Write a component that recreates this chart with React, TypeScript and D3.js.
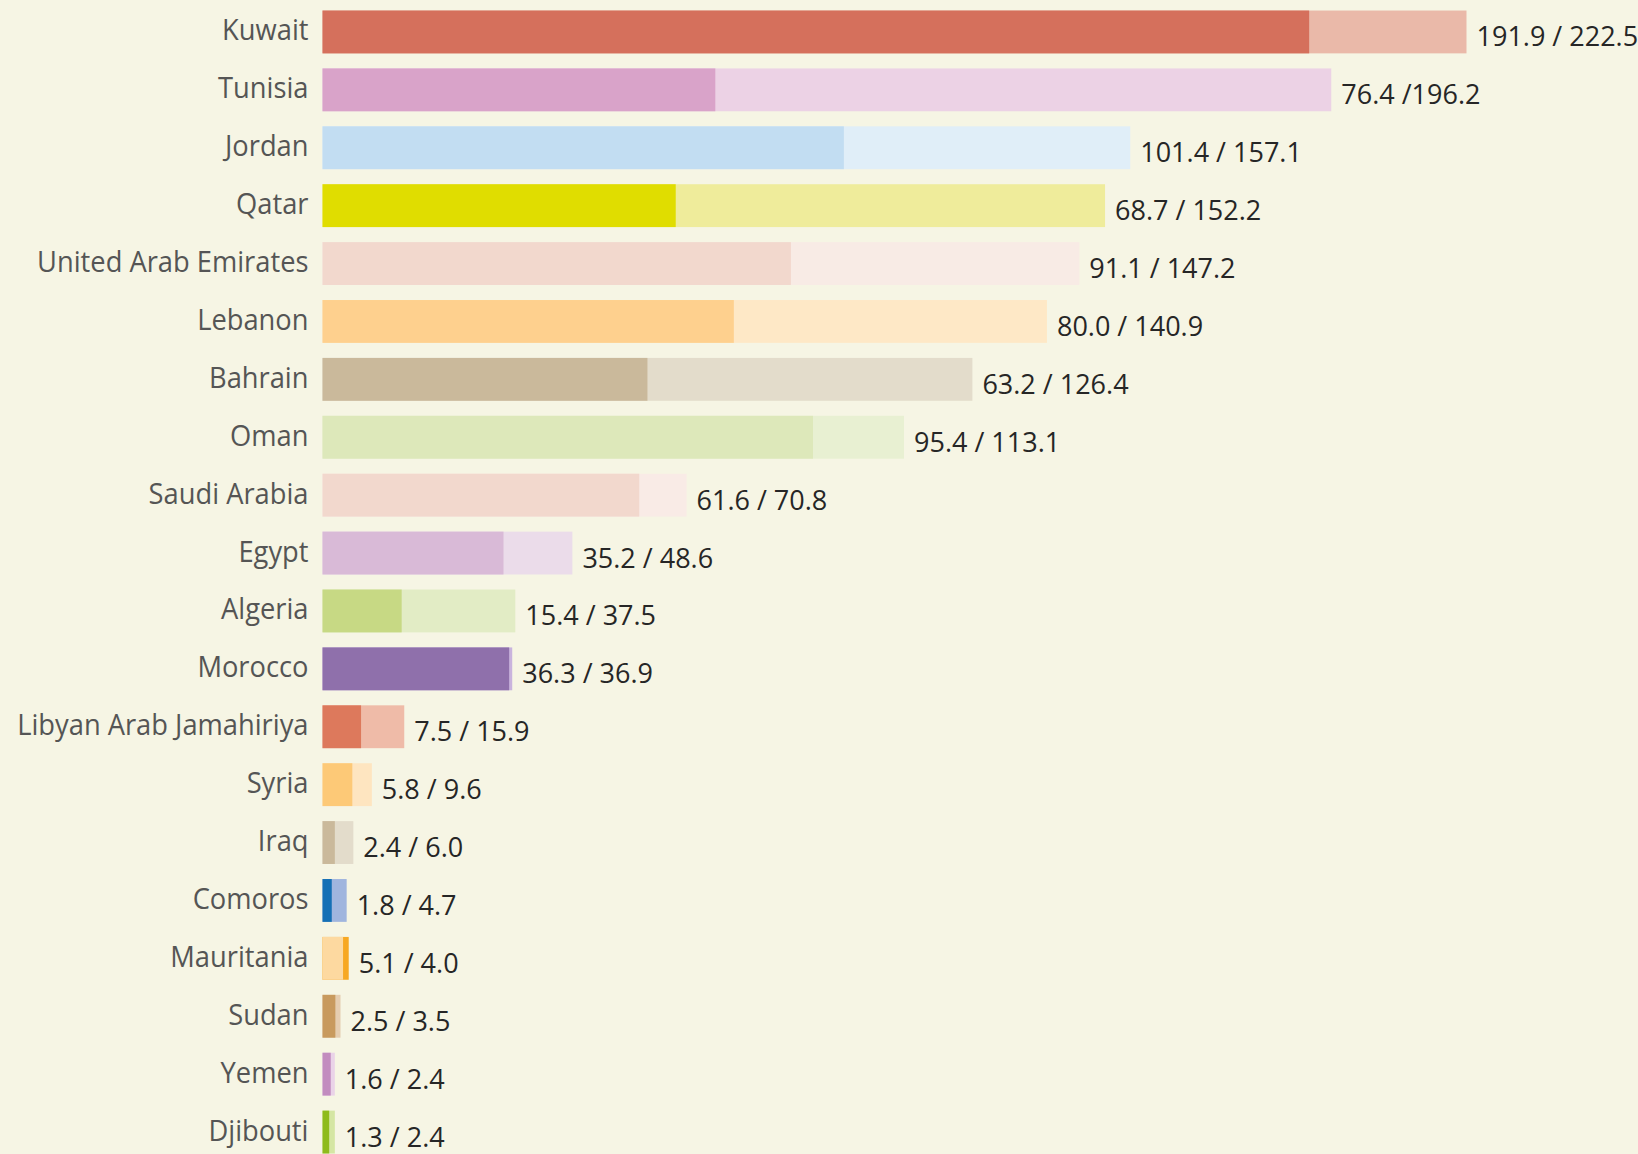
import React, { useEffect, useRef } from 'react';
import * as d3 from 'd3';

// country order, top to bottom
const countries = [
  'Kuwait', 'Tunisia', 'Jordan', 'Qatar', 'United Arab Emirates', 'Lebanon', 'Bahrain', 'Oman',
  'Saudi Arabia', 'Egypt', 'Algeria', 'Morocco', 'Libyan Arab Jamahiriya', 'Syria', 'Iraq',
  'Comoros', 'Mauritania', 'Sudan', 'Yemen', 'Djibouti',
];
// first value (dark) and second value (light)
const firstValues = [191.9, 76.4, 101.4, 68.7, 91.1, 80.0, 63.2, 95.4, 61.6, 35.2, 15.4, 36.3, 7.5, 5.8, 2.4, 1.8, 5.1, 2.5, 1.6, 1.3];
const secondValues = [222.5, 196.2, 157.1, 152.2, 147.2, 140.9, 126.4, 113.1, 70.8, 48.6, 37.5, 36.9, 15.9, 9.6, 6.0, 4.7, 4.0, 3.5, 2.4, 2.4];
const valueLabels = [
  '191.9 / 222.5', '76.4 /196.2', '101.4 / 157.1', '68.7 / 152.2', '91.1 / 147.2', '80.0 / 140.9',
  '63.2 / 126.4', '95.4 / 113.1', '61.6 / 70.8', '35.2 / 48.6', '15.4 / 37.5', '36.3 / 36.9',
  '7.5 / 15.9', '5.8 / 9.6', '2.4 / 6.0', '1.8 / 4.7', '5.1 / 4.0', '2.5 / 3.5', '1.6 / 2.4', '1.3 / 2.4',
];
const darkColors = [
  '#d5705c', '#d9a3c9', '#c2ddf2', '#e0dd00', '#f2d8cd', '#fed08e', '#cab99b', '#dde8ba',
  '#f2d8cd', '#d9bad7', '#c7d984', '#8f70ab', '#dd795c', '#fdc977', '#cab99b', '#1570b5',
  '#f7a823', '#c89a5e', '#c28cbf', '#8ebb1c',
];
const lightColors = [
  '#eab9a9', '#ecd2e5', '#e0eef8', '#efec9b', '#f8ebe5', '#fee8c6', '#e3dccb', '#e8f0d2',
  '#f9ebe6', '#ebdcea', '#e2ecc5', '#c9b3dd', '#efbba8', '#fee5c0', '#e3dccb', '#a0b5de',
  '#fdd9a0', '#e5cdb0', '#ead3e8', '#d5e6a3',
];

const width = 1638;
const height = 1154;

const App = () => {
  const ref = useRef<SVGSVGElement>(null);

  useEffect(() => {
    document.body.style.margin = '0';
    const svg = d3.select(ref.current);
    svg.selectAll('*').remove();

    svg.append('rect').attr('width', width).attr('height', height).attr('fill', '#f6f5e4');

    const x = d3.scaleLinear().domain([0, 222.5]).range([322.5, 1466.5]);
    const y = d3.scaleBand<string>()
      .domain(countries)
      .range([3, 3 + 57.9 * countries.length])
      .paddingInner(0.26)
      .paddingOuter(0.13);

    const rows = countries.map((c, i) => ({
      country: c,
      label: valueLabels[i],
      // bigger bar underneath, smaller on top
      parts: [
        { v: firstValues[i], color: darkColors[i] },
        { v: secondValues[i], color: lightColors[i] },
      ].sort((a, b) => b.v - a.v),
    }));

    const g = svg.selectAll('.row').data(rows).enter().append('g')
      .attr('class', 'row')
      .attr('transform', (d) => `translate(0,${y(d.country)})`);

    g.selectAll('rect').data((d) => d.parts).enter().append('rect')
      .attr('x', x(0))
      .attr('y', 0)
      .attr('width', (d) => x(d.v) - x(0))
      .attr('height', y.bandwidth())
      .attr('fill', (d) => d.color);

    // names: slightly condensed to look like the original narrow face
    g.append('text')
      .attr('transform', `translate(${x(0) - 14},${y.bandwidth() / 2 + 8.5}) scale(0.91,1)`)
      .attr('text-anchor', 'end')
      .attr('font-family', '"Open Sans", sans-serif')
      .attr('font-size', 30)
      .attr('fill', '#555555')
      .text((d) => d.country);

    g.append('text')
      .attr('x', (d) => x(d.parts[0].v) + 10)
      .attr('y', y.bandwidth() / 2 + 14.5)
      .attr('font-family', '"Open Sans", sans-serif')
      .attr('font-size', 27)
      .attr('fill', '#262626')
      .text((d) => d.label);
  }, []);

  return <svg ref={ref} width={width} height={height} style={{ display: 'block' }}></svg>;
};

export default App;
